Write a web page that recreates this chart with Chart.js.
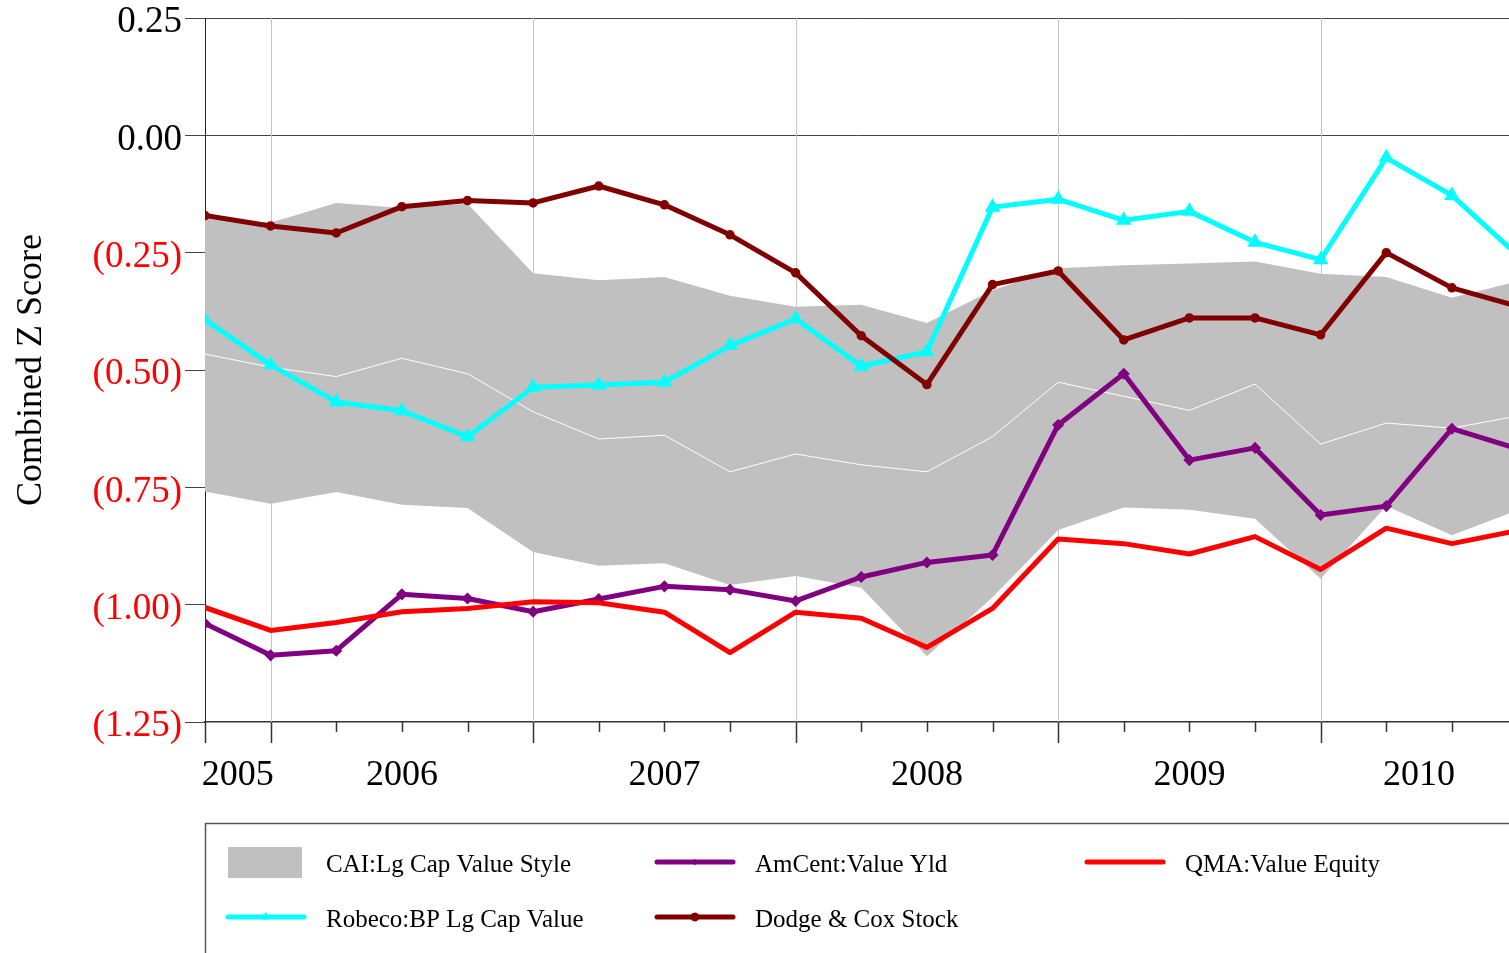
<!DOCTYPE html>
<html>
<head>
<meta charset="utf-8">
<script src="https://cdn.jsdelivr.net/npm/chart.js@4.4.1/dist/chart.umd.min.js"></script>
<style>
html,body{margin:0;padding:0;background:#fff;overflow:hidden}
canvas{display:block}
</style>
</head>
<body>
<canvas id="c" width="1509" height="953"></canvas>
<script>
// ---- data ----
const quarters = ['9/05','12/05','3/06','6/06','9/06','12/06','3/07','6/07','9/07','12/07','3/08','6/08','9/08','12/08','3/09','6/09','9/09','12/09','3/10','6/10','9/10'];
const yearLabels = ['2005','2006','2007','2008','2009','2010'];
const yTickValues = [0.25, 0, -0.25, -0.5, -0.75, -1.0, -1.25];

const styleHigh   = [-0.178,-0.186,-0.144,-0.155,-0.146,-0.294,-0.309,-0.302,-0.342,-0.365,-0.361,-0.400,-0.330,-0.283,-0.277,-0.273,-0.269,-0.295,-0.302,-0.346,-0.311];
const styleLow    = [-0.759,-0.785,-0.760,-0.787,-0.794,-0.888,-0.917,-0.912,-0.958,-0.939,-0.964,-1.110,-0.984,-0.841,-0.793,-0.798,-0.817,-0.945,-0.790,-0.852,-0.799];
const styleMedian = [-0.466,-0.494,-0.514,-0.475,-0.508,-0.589,-0.647,-0.639,-0.717,-0.679,-0.702,-0.717,-0.642,-0.526,-0.556,-0.586,-0.530,-0.658,-0.613,-0.624,-0.598];
const robeco = [-0.393,-0.489,-0.568,-0.587,-0.642,-0.537,-0.532,-0.526,-0.448,-0.391,-0.492,-0.461,-0.153,-0.136,-0.181,-0.162,-0.228,-0.265,-0.048,-0.128,-0.255];
const amcent = [-1.040,-1.108,-1.098,-0.978,-0.987,-1.015,-0.988,-0.961,-0.968,-0.992,-0.941,-0.910,-0.894,-0.617,-0.508,-0.692,-0.666,-0.809,-0.790,-0.625,-0.668];
const dodge  = [-0.171,-0.193,-0.208,-0.152,-0.139,-0.144,-0.108,-0.148,-0.212,-0.293,-0.427,-0.531,-0.318,-0.289,-0.436,-0.389,-0.389,-0.425,-0.250,-0.325,-0.364];
const qma    = [-1.006,-1.055,-1.038,-1.015,-1.008,-0.994,-0.996,-1.016,-1.102,-1.016,-1.029,-1.091,-1.008,-0.860,-0.870,-0.892,-0.855,-0.925,-0.837,-0.870,-0.842];

const seriesNames = {
  style: 'CAI:Lg Cap Value Style',
  amcent: 'AmCent:Value Yld',
  qma: 'QMA:Value Equity',
  robeco: 'Robeco:BP Lg Cap Value',
  dodge: 'Dodge & Cox Stock'
};

// ---- derived helpers ----
const pts = arr => arr.map((v, i) => ({x: i, y: v}));
const yearBoundaries = quarters.map((q, i) => q.startsWith('12/') ? i : -1).filter(i => i >= 0);
function yearCenter(y) {
  const yy = y.slice(2);
  const idx = quarters.map((q, i) => q.endsWith('/' + yy) ? i : -1).filter(i => i >= 0);
  let start = quarters.indexOf('12/' + String(+yy - 1).padStart(2, '0'));
  if (start < 0) start = Math.min(...idx);
  return (start + Math.max(...idx)) / 2;
}
const yearCenters = yearLabels.map(yearCenter);

const FONT = '"Liberation Serif", "Times New Roman", Times, serif';
Chart.defaults.font.family = FONT;
Chart.defaults.color = '#000';

const decor = {
  id: 'decor',
  beforeDatasetsDraw(chart) {
    const {ctx, chartArea: a, scales: {x}} = chart;
    ctx.save();
    ctx.strokeStyle = '#c4c4c4';
    ctx.lineWidth = 1;
    yearBoundaries.forEach(i => {
      const px = Math.round(x.getPixelForValue(i)) + 0.5;
      if (px <= a.right) {
        ctx.beginPath(); ctx.moveTo(px, a.top); ctx.lineTo(px, a.bottom); ctx.stroke();
      }
    });
    ctx.restore();
  },
  afterDraw(chart) {
    const {ctx, chartArea: a, scales: {x}} = chart;
    ctx.save();
    // x tick marks
    ctx.strokeStyle = '#333';
    ctx.lineWidth = 1.5;
    quarters.forEach((q, i) => {
      const px = Math.round(x.getPixelForValue(i)) + 0.5;
      if (px > a.right) return;
      const long = i === 0 || yearBoundaries.includes(i);
      ctx.beginPath(); ctx.moveTo(px, a.bottom); ctx.lineTo(px, a.bottom + (long ? 21 : 10)); ctx.stroke();
    });
    // legend
    const L = chart.options.plugins.customLegend;
    ctx.strokeStyle = '#555';
    ctx.lineWidth = 1.5;
    ctx.strokeRect(L.left + 0.5, L.top + 0.5, 2000, 400);
    ctx.font = L.fontSize + 'px ' + FONT;
    ctx.textBaseline = 'middle';
    ctx.fillStyle = '#000';
    L.items.forEach((key, n) => {
      const col = n % 3, row = Math.floor(n / 3);
      const sx = L.colX[col], ly = L.rowY[row];
      const ds = chart.data.datasets.find(d => d.key === key);
      if (key === 'style') {
        ctx.fillStyle = ds.backgroundColor;
        ctx.fillRect(sx, ly - 17, 74, 31);
      } else {
        ctx.strokeStyle = ds.borderColor;
        ctx.lineWidth = 5;
        ctx.lineCap = 'round';
        ctx.beginPath(); ctx.moveTo(sx, ly - 2); ctx.lineTo(sx + 76, ly - 2); ctx.stroke();
        if (ds.pointRadius > 0) {
          ctx.fillStyle = ds.pointBackgroundColor;
          ctx.strokeStyle = ds.borderColor;
          ctx.lineWidth = 1;
          try {
            Chart.helpers.drawPoint(ctx, {pointStyle: ds.pointStyle, radius: ds.pointRadius, rotation: 0, borderWidth: 1}, sx + 38, ly - 2);
          } catch (e) {}
        }
      }
      ctx.fillStyle = '#000';
      ctx.fillText(seriesNames[key], sx + 98, ly + 1);
    });
    ctx.restore();
  }
};

new Chart(document.getElementById('c'), {
  type: 'line',
  data: {
    datasets: [
      {key: 'style', label: seriesNames.style, data: pts(styleHigh), fill: '+1', backgroundColor: '#c0c0c0', borderWidth: 0, pointRadius: 0, order: 7},
      {key: 'styleLow', label: 'low', data: pts(styleLow), fill: false, borderWidth: 0, pointRadius: 0, order: 6},
      {key: 'median', label: 'median', data: pts(styleMedian), fill: false, borderColor: '#ffffff', borderWidth: 1, pointRadius: 0, order: 5},
      {key: 'robeco', label: seriesNames.robeco, data: pts(robeco), borderColor: '#00ffff', pointBackgroundColor: '#00ffff', pointBorderColor: '#00ffff', borderWidth: 5, pointStyle: 'triangle', pointRadius: 4, order: 4},
      {key: 'amcent', label: seriesNames.amcent, data: pts(amcent), borderColor: '#800080', pointBackgroundColor: '#800080', pointBorderColor: '#800080', borderWidth: 5, pointStyle: 'rectRot', pointRadius: 2.5, order: 3},
      {key: 'dodge', label: seriesNames.dodge, data: pts(dodge), borderColor: '#800000', pointBackgroundColor: '#800000', pointBorderColor: '#8a0000', borderWidth: 5, pointStyle: 'circle', pointRadius: 4, pointBorderWidth: 1.5, order: 2},
      {key: 'qma', label: seriesNames.qma, data: pts(qma), borderColor: '#ff0000', borderWidth: 5, pointRadius: 0, order: 1}
    ]
  },
  options: {
    responsive: false,
    animation: false,
    devicePixelRatio: 1,
    layout: {autoPadding: false, padding: {top: 18, right: 0, bottom: 0, left: 0}},
    elements: {line: {tension: 0, borderJoinStyle: 'round', borderCapStyle: 'round'}, point: {hoverRadius: 4}},
    plugins: {
      legend: {display: false},
      tooltip: {enabled: false},
      customLegend: {
        left: 205, top: 823, fontSize: 25,
        colX: [228, 657, 1087], rowY: [864, 919],
        items: ['style', 'amcent', 'qma', 'robeco', 'dodge']
      }
    },
    scales: {
      x: {
        type: 'linear',
        min: 0,
        max: 19.87,
        grid: {display: false, drawTicks: false, tickLength: 0},
        border: {display: true, color: '#333', width: 1.5},
        afterBuildTicks: s => { s.ticks = yearCenters.map(v => ({value: v})); },
        ticks: {
          autoSkip: false, maxRotation: 0, minRotation: 0, padding: 32,
          font: {size: 36, family: FONT}, color: '#000',
          callback: (v, i) => yearLabels[i]
        },
        afterFit: s => { s.height = 231; s.paddingLeft = 0; s.paddingRight = 0; }
      },
      y: {
        type: 'linear',
        min: -1.25,
        max: 0.25,
        afterBuildTicks: s => { s.ticks = yTickValues.map(v => ({value: v})); },
        grid: {
          color: c => (c.tick && (Math.abs(c.tick.value) < 1e-9 || Math.abs(c.tick.value - 0.25) < 1e-9)) ? '#444' : 'rgba(0,0,0,0)',
          tickColor: '#444',
          tickLength: 20,
          lineWidth: 1
        },
        border: {display: true, color: '#222', width: 1},
        ticks: {
          padding: 3,
          font: {size: 37, family: FONT, lineHeight: '9px'},
          color: c => c.tick && c.tick.value < -1e-9 ? '#ff0000' : '#000',
          callback: v => ['', v < -1e-9 ? '(' + Math.abs(v).toFixed(2) + ')' : Math.abs(v).toFixed(2)]
        },
        title: {
          display: true, text: 'Combined Z Score',
          font: {size: 36, family: FONT}, color: '#000',
          padding: {top: 10, bottom: 0}
        },
        afterFit: s => { s.width = 205; s.paddingTop = 0; s.paddingBottom = 0; }
      }
    }
  },
  plugins: [decor]
});
</script>
</body>
</html>
